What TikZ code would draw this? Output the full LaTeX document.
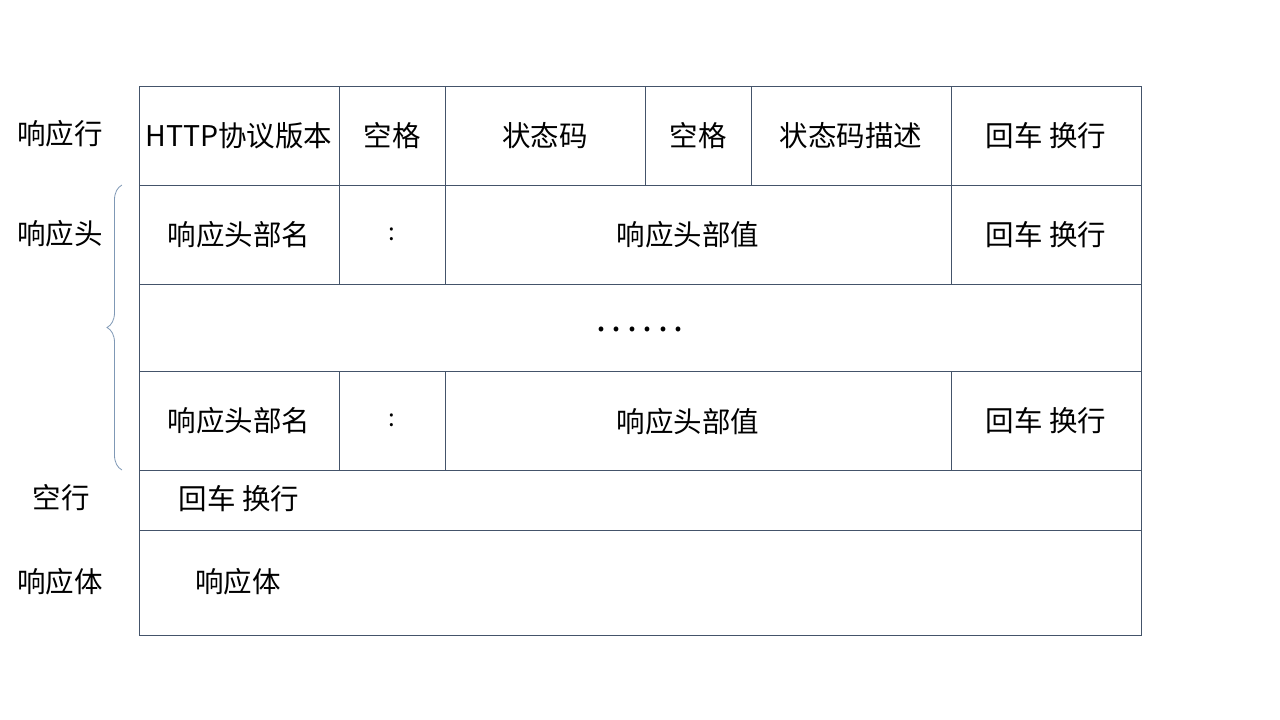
\documentclass[tikz,border=0pt]{standalone}
\usepackage{fontspec}
\setmainfont{Noto Sans CJK SC}
\usetikzlibrary{decorations.pathreplacing}
\definecolor{gridline}{HTML}{44546A}
\definecolor{bracecol}{HTML}{7F98B5}
\begin{document}
\begin{tikzpicture}[x=1pt, y=-1pt,
    cell/.style={draw=gridline, line width=0.9pt, inner sep=0pt, outer sep=0pt,
      font=\fontsize{28.5}{32}\selectfont},
    colon/.style={cell, font=\fontsize{24}{28}\selectfont},
    txt/.style={inner sep=0pt, font=\fontsize{28.5}{32}\selectfont},
  ]
  \useasboundingbox (0,0) rectangle (1280,720);

  % status line
  \node[cell, minimum width=200pt, minimum height=99pt] (ver)   at (239,135.5)  {HTTP协议版本};
  \node[cell, minimum width=106pt, minimum height=99pt] (sp1)   at (392,135.5)  {空格};
  \node[cell, minimum width=200pt, minimum height=99pt] (code)  at (545,135.5)  {状态码};
  \node[cell, minimum width=106pt, minimum height=99pt] (sp2)   at (698,135.5)  {空格};
  \node[cell, minimum width=200pt, minimum height=99pt] (desc)  at (851,135.5)  {状态码描述};
  \node[cell, minimum width=190pt, minimum height=99pt] (crlf1) at (1046,135.5) {回车 换行};

  % headers
  \node[cell,  minimum width=200pt, minimum height=99pt] (key1)  at (239,234.5)  {响应头部名};
  \node[colon, minimum width=106pt, minimum height=99pt] (col1)  at (392,234.5)  {:};
  \node[cell,  minimum width=506pt, minimum height=99pt] (val1)  at (698,234.5)  {};
  \node[cell,  minimum width=190pt, minimum height=99pt] (crlf2) at (1046,234.5) {回车 换行};
  \node[txt] (val1txt) at (688,234.5) {响应头部值};

  \node[cell, minimum width=1002pt, minimum height=87pt] (more) at (640,327.5) {};
  \node[txt, anchor=base, font=\fontsize{36}{40}\selectfont] (dots) at (640,331.5)
    {.\hskip5.5pt.\hskip5.5pt.\hskip5.5pt.\hskip5.5pt.\hskip5.5pt.};

  \node[cell,  minimum width=200pt, minimum height=99pt] (key2)  at (239,420.5)  {响应头部名};
  \node[colon, minimum width=106pt, minimum height=99pt] (col2)  at (392,420.5)  {:};
  \node[cell,  minimum width=506pt, minimum height=99pt] (val2)  at (698,420.5)  {};
  \node[cell,  minimum width=190pt, minimum height=99pt] (crlf3) at (1046,420.5) {回车 换行};
  \node[txt] (val2txt) at (688,421.5) {响应头部值};

  % blank line and body
  \node[cell, minimum width=1002pt, minimum height=60pt]  (blank) at (640,500)   {};
  \node[txt] (blanktxt) at (239,499) {回车 换行};
  \node[cell, minimum width=1002pt, minimum height=105pt] (body)  at (640,582.5) {};
  \node[txt] (bodytxt) at (238,582) {响应体};

  % row labels
  \node[txt] (lstatus) at (60,134) {响应行};
  \node[txt] (lhead)   at (60,234) {响应头};
  \node[txt] (lblank)  at (61,498) {空行};
  \node[txt] (lbody)   at (60,582) {响应体};

  \draw[bracecol, line width=0.8pt, decorate, decoration={brace, amplitude=15pt}]
    ([xshift=-17pt]key2.south west) -- ([xshift=-17pt]key1.north west);
\end{tikzpicture}
\end{document}
